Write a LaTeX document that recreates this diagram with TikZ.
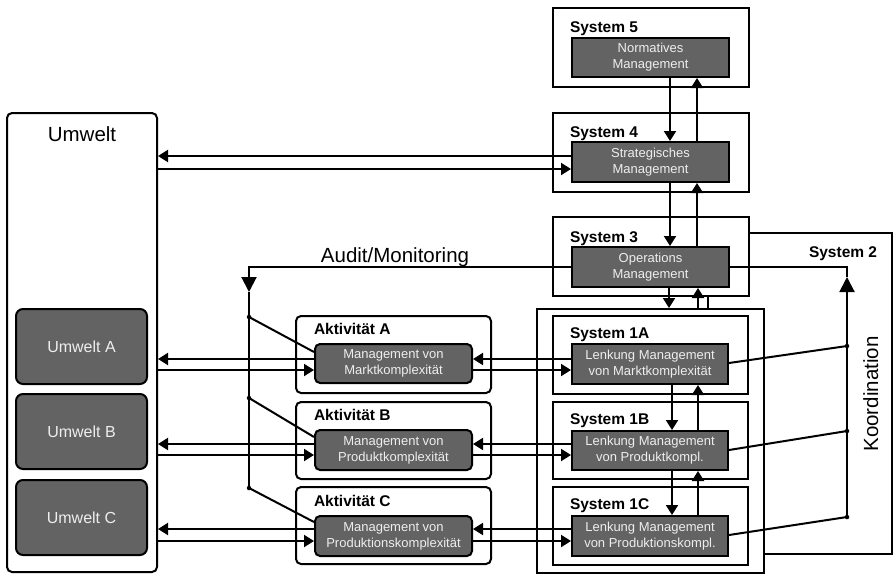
\documentclass[tikz,border=0pt]{standalone}
\usepackage{fontspec}
\setmainfont{Liberation Sans}
\usetikzlibrary{arrows.meta}
\definecolor{boxgray}{RGB}{99,99,99}
\definecolor{boxtext}{RGB}{238,238,238}

\begin{document}
\begin{tikzpicture}[x=1pt,y=-1pt,line width=2pt,
  sysframe/.style={draw, inner sep=0pt},
  actframe/.style={sysframe, rounded corners=5pt},
  darkbox/.style={draw, fill=boxgray, text=boxtext, inner sep=0pt, align=center,
    font=\fontsize{13}{16}\selectfont},
  darkround/.style={darkbox, rounded corners=5pt},
  envbox/.style={darkbox, rounded corners=7pt, font=\fontsize{16}{19}\selectfont},
  sectitle/.style={font=\bfseries\fontsize{15.5}{18}\selectfont, anchor=base west, inner sep=0pt},
  biglabel/.style={font=\fontsize{20.5}{24}\selectfont, inner sep=0pt},
  arr/.style={-{Triangle[length=10pt,width=12pt]}},
  bigarr/.style={-{Triangle[length=15pt,width=15pt]}},
  joint/.style={circle, fill, inner sep=0pt, minimum size=4.5pt}]

\fill[white] (0,0) rectangle (893,574);
\useasboundingbox (0,0) rectangle (893,574);

% ---- Systems 5, 4, 3 ----
\node[sysframe, minimum width=196pt, minimum height=79pt] (s5) at (651,47.5) {};
\node[darkbox, minimum width=157pt, minimum height=39pt] (n5) at (650.5,57.5) {Normatives\\Management};
\node[sectitle] at (569,32.5) {System 5};

\node[sysframe, minimum width=196pt, minimum height=79pt] (s4) at (651,152.5) {};
\node[darkbox, minimum width=157pt, minimum height=40pt] (n4) at (650.5,162) {Strategisches\\Management};
\node[sectitle] at (569,137.5) {System 4};

\node[sysframe, minimum width=196pt, minimum height=79pt] (s3) at (651,256.5) {};
\node[darkbox, minimum width=157pt, minimum height=40pt] (n3) at (650.5,267) {Operations\\Management};
\node[sectitle] at (569,242.5) {System 3};

% ---- System 1 ----
\node[sysframe, minimum width=227pt, minimum height=264pt] (s1) at (650.5,441) {};
\node[sysframe, minimum width=195pt, minimum height=78pt] (s1a) at (650.5,355) {};
\node[sysframe, minimum width=195pt, minimum height=77pt] (s1b) at (650.5,440.5) {};
\node[sysframe, minimum width=195pt, minimum height=78pt] (s1c) at (650.5,526) {};
\node[darkbox, minimum width=156pt, minimum height=40pt] (l1a) at (650,364) {Lenkung Management\\von Marktkomplexität};
\node[darkbox, minimum width=156pt, minimum height=39pt] (l1b) at (650,450.5) {Lenkung Management\\von Produktkompl.};
\node[darkbox, minimum width=156pt, minimum height=40pt] (l1c) at (650,536) {Lenkung Management\\von Produktionskompl.};
\node[sectitle] at (569,338.5) {System 1A};
\node[sectitle] at (569,424.5) {System 1B};
\node[sectitle] at (569,509.5) {System 1C};

% ---- Activities ----
\node[actframe, minimum width=195pt, minimum height=77pt] (aA) at (393.5,354.5) {};
\node[actframe, minimum width=195pt, minimum height=77pt] (aB) at (393.5,440.5) {};
\node[actframe, minimum width=195pt, minimum height=77pt] (aC) at (393.5,525.5) {};
\node[darkround, minimum width=157pt, minimum height=39pt] (mA) at (393.5,363.5) {Management von\\Marktkomplexität};
\node[darkround, minimum width=157pt, minimum height=40pt] (mB) at (393.5,450) {Management von\\Produktkomplexität};
\node[darkround, minimum width=157pt, minimum height=40pt] (mC) at (393.5,536) {Management von\\Produktionskomplexität};
\node[sectitle] at (313,334.5) {Aktivität A};
\node[sectitle] at (313,420.5) {Aktivität B};
\node[sectitle] at (313,506.5) {Aktivität C};

% ---- Environment ----
\node[actframe, fill=white, minimum width=150pt, minimum height=459pt] (U) at (82,342.5) {};
\node[biglabel, anchor=base] at (82,141.5) {Umwelt};
\node[envbox, minimum width=131pt, minimum height=75pt] (uA) at (81.5,346.5) {Umwelt A};
\node[envbox, minimum width=131pt, minimum height=75pt] (uB) at (81.5,431.5) {Umwelt B};
\node[envbox, minimum width=131pt, minimum height=75pt] (uC) at (81.5,517.5) {Umwelt C};

% ---- Vertical channels ----
\draw[arr] ([xshift=19.5pt]n5.south) -- ([xshift=19.5pt]n4.north);
\draw[arr] ([xshift=46.5pt]n4.north) -- ([xshift=46.5pt]n5.south);
\draw[arr] ([xshift=19.5pt]n4.south) -- ([xshift=19.5pt]n3.north);
\draw[arr] ([xshift=46.5pt]n3.north) -- ([xshift=46.5pt]n4.south);
\draw[arr] ([xshift=18.5pt]n3.south) -- ([xshift=18.5pt]s1.north);
\draw[arr] ([xshift=47.5pt]s1.north) -- ([xshift=47.5pt]n3.south);
\draw ([xshift=57pt]s3.south) -- ([xshift=57.5pt]s1.north);
\draw[arr] ([xshift=22pt]l1a.south) -- ([xshift=22pt]l1b.north);
\draw[arr] ([xshift=48pt]l1b.north) -- ([xshift=48pt]l1a.south);
\draw[arr] ([xshift=22pt]l1b.south) -- ([xshift=22pt]l1c.north);
\draw[arr] ([xshift=48pt]l1c.north) -- ([xshift=48pt]l1b.south);

% ---- Environment and strategy ----
\draw[arr] (n4.west |- 0,156) -- (U.east |- 0,156);
\draw[arr] (U.east |- 0,169) -- (n4.west |- 0,169);

% ---- Rows: environment, activity, system 1 ----
\foreach \m/\l/\ya/\yb in {mA/l1a/359/370, mB/l1b/444/455, mC/l1c/529/541}{
  \draw[arr] (\m.west |- 0,\ya) -- (U.east |- 0,\ya);
  \draw[arr] (U.east |- 0,\yb) -- (\m.west |- 0,\yb);
  \draw[arr] (\l.west |- 0,\ya) -- (\m.east |- 0,\ya);
  \draw[arr] (\m.east |- 0,\yb) -- (\l.west |- 0,\yb);
}

% ---- Audit / Monitoring ----
\coordinate (au) at (249,292);
\coordinate (a1) at (249,317);
\coordinate (a2) at (249,398);
\coordinate (a3) at (249,488);
\draw[bigarr] (n3.west) -| (au);
\draw (au) -- (a3);
\draw (a1) -- (mA.west |- 0,352);
\draw (a2) -- (mB.west |- 0,437);
\draw (a3) -- (mC.west |- 0,522);
\node[joint] at (a1) {};
\node[joint] at (a2) {};
\node[joint] at (a3) {};
\node[biglabel, anchor=base] at (395,262) {Audit/Monitoring};

% ---- System 2 / coordination ----
\draw (s3.east |- 0,233) -- (892,233) -- (892,554) -- (s1.east |- 0,554);
\node[sectitle] at (808,257.5) {System 2};
\coordinate (ks) at (847,277);
\coordinate (k1) at (847,346);
\coordinate (k2) at (847,431);
\coordinate (k3) at (847,517);
\draw[bigarr] (k3) -- (ks);
\draw (n3.east) -| (ks);
\draw (l1a.east |- 0,363) -- (k1);
\draw (l1b.east |- 0,450) -- (k2);
\draw (l1c.east |- 0,535) -- (k3);
\node[joint] at (k1) {};
\node[joint] at (k2) {};
\node[joint] at (k3) {};
\node[biglabel, rotate=90, anchor=base] at (878,394) {Koordination};
\end{tikzpicture}
\end{document}
